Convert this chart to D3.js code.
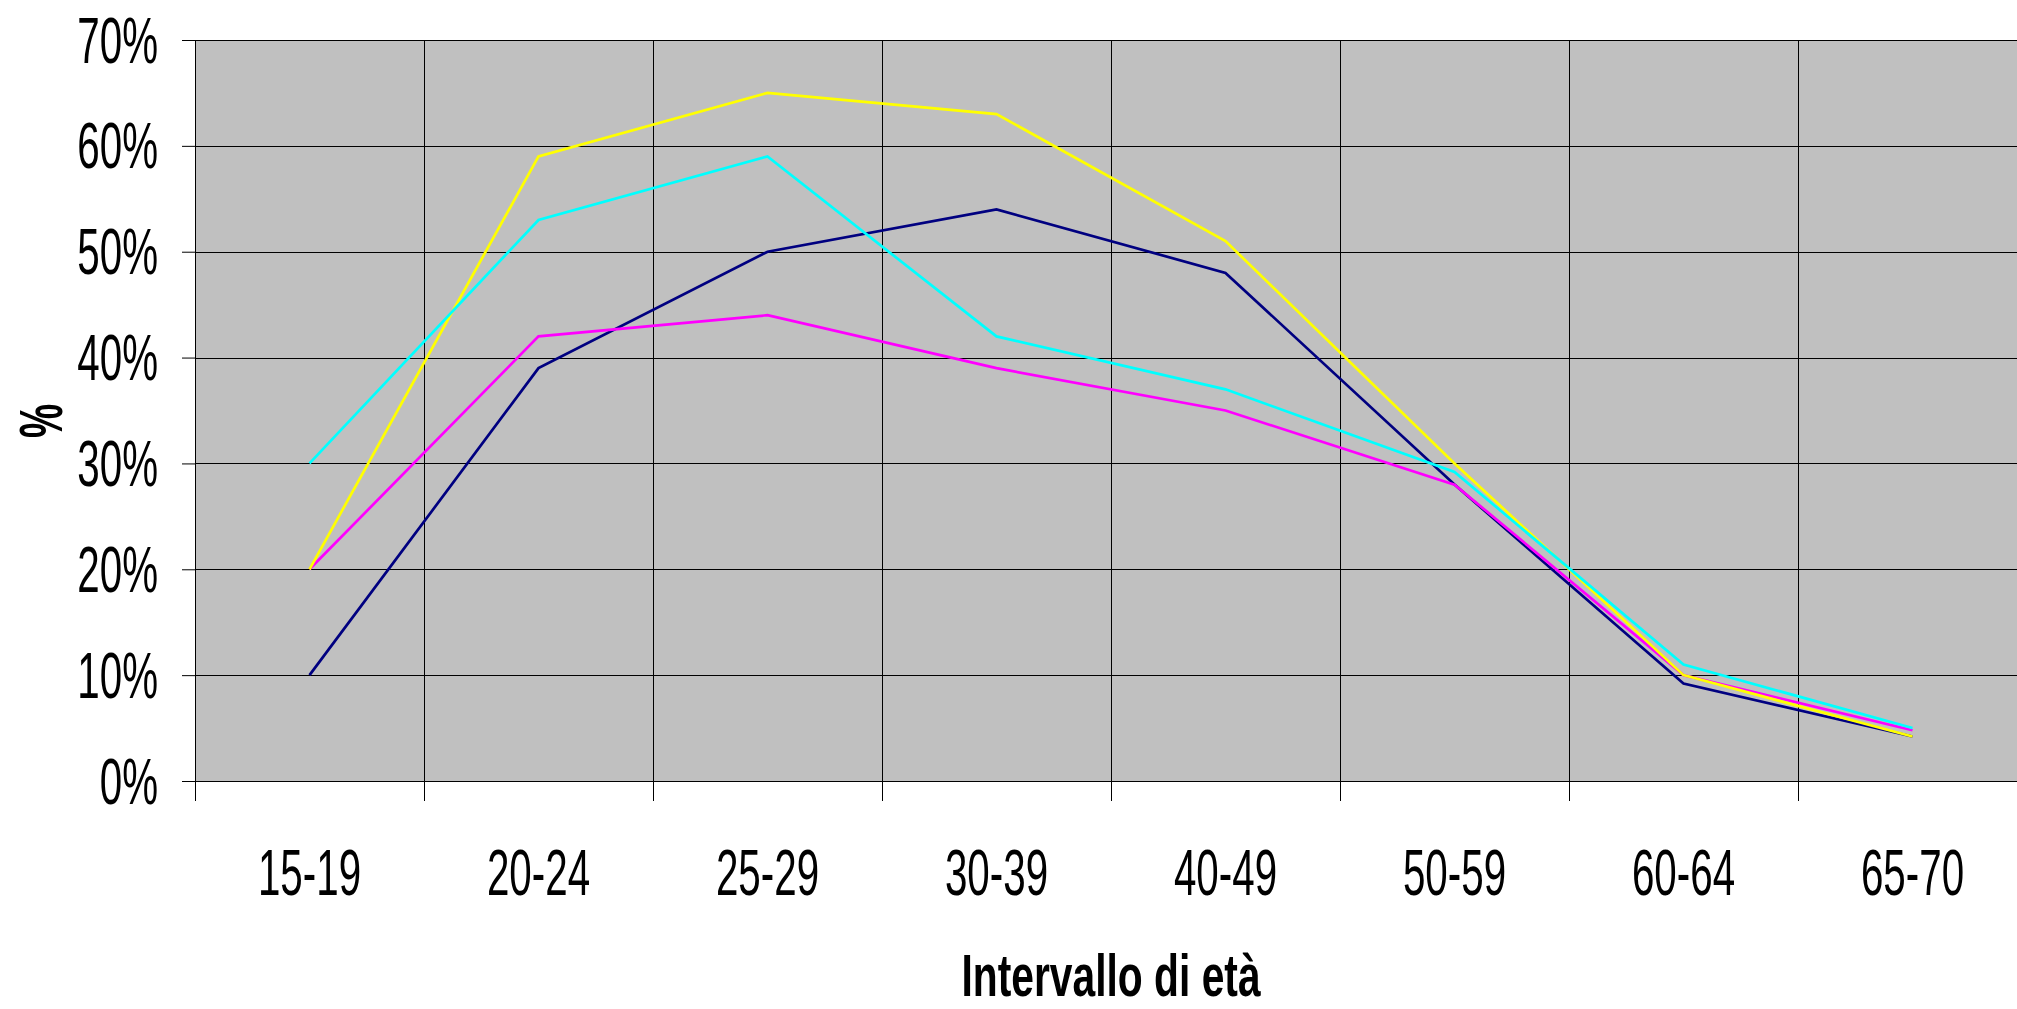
<!DOCTYPE html>
<html>
<head>
<meta charset="utf-8">
<script src="https://cdn.jsdelivr.net/npm/d3@7"></script>
<style>
  body { margin: 0; background: #fff; }
  text { font-family: "Liberation Sans", Arial, sans-serif; fill: #000; }
</style>
</head>
<body>
<div id="chart"></div>
<script>
// Età e percentuali
var categories = ["15-19", "20-24", "25-29", "30-39", "40-49", "50-59", "60-64", "65-70"];
var navyValues = [0.10, 0.39, 0.50, 0.54, 0.48, 0.28, 0.092, 0.042];
var magentaValues = [0.20, 0.42, 0.44, 0.39, 0.35, 0.28, 0.10, 0.048];
var yellowValues = [0.20, 0.59, 0.65, 0.63, 0.51, 0.30, 0.10, 0.042];
var cyanValues = [0.30, 0.53, 0.59, 0.42, 0.37, 0.292, 0.11, 0.05];
var yTicks = [0, 0.1, 0.2, 0.3, 0.4, 0.5, 0.6, 0.7];
var xTitle = "Intervallo di età";
var yTitle = "%";

// drawing order as in the original (series 1 first)
var series = [
  { values: navyValues, color: "#000080" },
  { values: magentaValues, color: "#FF00FF" },
  { values: yellowValues, color: "#FFFF00" },
  { values: cyanValues, color: "#00FFFF" }
];

// Chart area
var svgWidth = 2017;
var svgHeight = 1009;
var margin = { top: 40, right: -10, bottom: 228, left: 195 };
var width = svgWidth - margin.left - margin.right;
var height = svgHeight - margin.top - margin.bottom;
var squeeze = 0.63;

var svg = d3.select("#chart")
  .append("svg")
  .attr("width", svgWidth)
  .attr("height", svgHeight);

var chartGroup = svg.append("g")
  .attr("transform", `translate(${margin.left}, ${margin.top})`);

// scales
var xBand = d3.scaleBand()
  .domain(categories)
  .range([0, width])
  .padding(0);

var yScale = d3.scaleLinear()
  .domain([0, 0.7])
  .range([height, 0]);

// plot area
chartGroup.append("rect")
  .attr("width", width)
  .attr("height", height)
  .attr("fill", "#C0C0C0");

// horizontal gridlines
chartGroup.append("g")
  .selectAll("line")
  .data(yTicks)
  .enter()
  .append("line")
  .attr("x1", 0)
  .attr("x2", width)
  .attr("y1", d => Math.round(yScale(d)) + 0.5)
  .attr("y2", d => Math.round(yScale(d)) + 0.5)
  .attr("stroke", "#000")
  .attr("stroke-width", 1);

// vertical gridlines + ticks below axis at the category boundaries
chartGroup.append("g")
  .selectAll("line")
  .data(categories)
  .enter()
  .append("line")
  .attr("x1", d => Math.round(xBand(d)) + 0.5)
  .attr("x2", d => Math.round(xBand(d)) + 0.5)
  .attr("y1", 0)
  .attr("y2", height + 20)
  .attr("stroke", "#000")
  .attr("stroke-width", 1);

// y axis
var leftAxis = d3.axisLeft(yScale)
  .tickValues(yTicks)
  .tickFormat(d3.format(".0%"))
  .tickSize(13)
  .tickSizeOuter(0);

var yAxisG = chartGroup.append("g")
  .call(leftAxis);
yAxisG.select(".domain").attr("stroke", "#000");
yAxisG.selectAll(".tick line").attr("stroke", "#000");
yAxisG.selectAll("text")
  .attr("x", 0)
  .attr("dy", null)
  .attr("font-size", 64)
  .attr("font-family", "Liberation Sans, Arial, sans-serif")
  .attr("text-anchor", "end")
  .attr("transform", `translate(-37, 22) scale(${squeeze}, 1)`);

// x axis
var bottomAxis = d3.axisBottom(xBand)
  .tickSize(0)
  .tickSizeOuter(0);

var xAxisG = chartGroup.append("g")
  .attr("transform", `translate(-13, ${height})`)
  .call(bottomAxis);
xAxisG.select(".domain").attr("stroke", "#000").attr("d", `M0,0.5H${width + 13}`);
xAxisG.selectAll(".tick")
  .attr("transform", d => `translate(${xBand(d) + xBand.bandwidth() / 2 + 13}, 0)`);
xAxisG.selectAll("text")
  .attr("y", 0)
  .attr("dy", null)
  .attr("font-size", 64)
  .attr("font-family", "Liberation Sans, Arial, sans-serif")
  .attr("transform", `translate(0, 114) scale(${squeeze}, 1)`);

// lines
var line = d3.line()
  .x((d, i) => xBand(categories[i]) + xBand.bandwidth() / 2)
  .y(d => yScale(d));

chartGroup.append("g")
  .selectAll("path")
  .data(series)
  .enter()
  .append("path")
  .attr("d", d => line(d.values))
  .attr("fill", "none")
  .attr("stroke", d => d.color)
  .attr("stroke-width", 2.7)
  .attr("stroke-linejoin", "miter");

// axis titles
svg.append("text")
  .attr("transform", `translate(${margin.left + width / 2}, 996) scale(0.68, 1)`)
  .attr("text-anchor", "middle")
  .attr("font-size", 60)
  .attr("font-weight", "bold")
  .text(xTitle);

svg.append("text")
  .attr("transform", "translate(62, 421) rotate(-90) scale(0.62, 1)")
  .attr("text-anchor", "middle")
  .attr("font-size", 62)
  .attr("font-weight", "bold")
  .text(yTitle);
</script>
</body>
</html>
